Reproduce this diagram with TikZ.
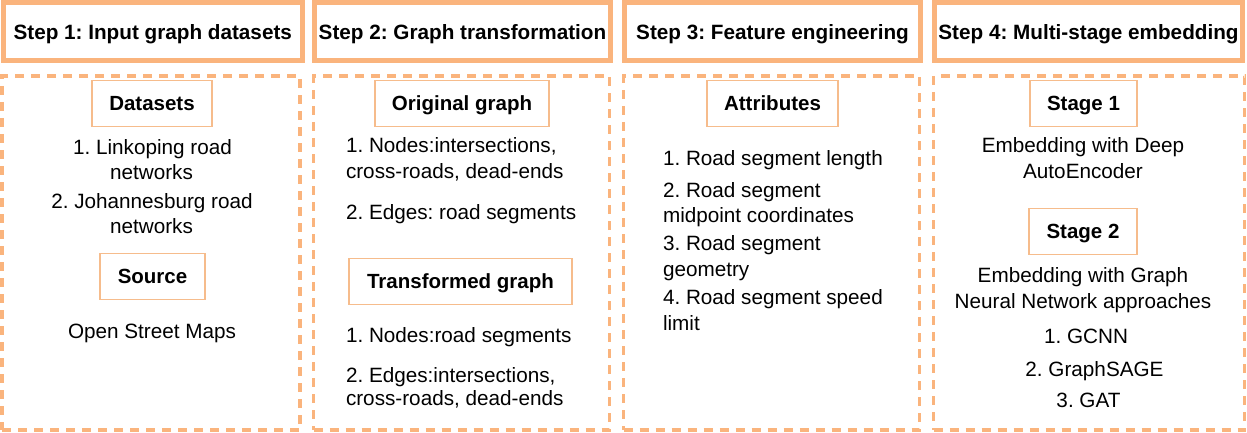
\documentclass[tikz,border=0pt]{standalone}
\usepackage{fontspec}
\setmainfont{Liberation Sans}
\frenchspacing
\definecolor{orng}{RGB}{250,180,125}
\definecolor{orngthin}{RGB}{246,188,140}
\begin{document}
\begin{tikzpicture}[x=1pt,y=-1pt,
  every node/.style={inner sep=0pt,outer sep=0pt,font=\fontsize{20.7}{25}\selectfont\frenchspacing},
  header/.style={draw=orng,line width=5pt,font=\fontsize{20.7}{25}\selectfont\bfseries\frenchspacing,
    text height=14.8pt,text depth=0pt,minimum height=57.5pt},
  panel/.style={draw=orng,line width=3.6pt,dash pattern=on 9pt off 7pt,minimum height=354pt},
  tagbox/.style={draw=orngthin,line width=1.6pt,font=\fontsize{20.5}{25}\selectfont\bfseries\frenchspacing,
    text height=14.8pt,text depth=0pt,minimum height=46pt},
  ctext/.style={anchor=base},
  ltext/.style={anchor=base west}]
\useasboundingbox (0,0) rectangle (1247,433);
% headers
\node[header,minimum width=299.5pt] (h1) at (152.75,31.75) {Step 1: Input graph datasets};
\node[header,minimum width=296pt] (h2) at (462.5,31.75) {Step 2: Graph transformation};
\node[header,minimum width=296pt] (h3) at (772.5,31.75) {Step 3: Feature engineering};
\node[header,minimum width=308pt] (h4) at (1088.5,31.75) {Step 4: Multi-stage embedding};
% panels
\node[panel,minimum width=298pt] (p1) at (151,253) {};
\node[panel,minimum width=296pt] (p2) at (461.5,253) {};
\node[panel,minimum width=296pt] (p3) at (771.5,253) {};
\node[panel,minimum width=311pt] (p4) at (1089,253) {};
% column 1
\node[tagbox,minimum width=120pt] (ds) at (152,103.5) {Datasets};
\node[ctext] (c1a) at (152.5,154) {1. Linkoping road};
\node[ctext] (c1b) at (151.5,179) {networks};
\node[ctext] (c1c) at (152,208) {2. Johannesburg road};
\node[ctext] (c1d) at (151.5,233) {networks};
\node[tagbox,minimum width=105pt] (src) at (152.5,276.5) {Source};
\node[ctext] (c1e) at (152,338) {Open Street Maps};
% column 2
\node[tagbox,minimum width=174pt] (og) at (462,103.5) {Original graph};
\node[ltext] (c2a) at (346,153) {1. Nodes:intersections,};
\node[ltext] (c2b) at (346,178) {cross-roads, dead-ends};
\node[ltext] (c2c) at (346,219) {2. Edges: road segments};
\node[tagbox,minimum width=223pt] (tg) at (460.5,281.5) {Transformed graph};
\node[ltext] (c2d) at (346,342) {1. Nodes:road segments};
\node[ltext] (c2e) at (346,382) {2. Edges:intersections,};
\node[ltext] (c2f) at (346,405) {cross-roads, dead-ends};
% column 3
\node[tagbox,minimum width=131pt] (at) at (772.5,103.5) {Attributes};
\node[ltext] (c3a) at (663,165) {1. Road segment length};
\node[ltext] (c3b) at (663,197) {2. Road segment};
\node[ltext] (c3c) at (663,222) {midpoint coordinates};
\node[ltext] (c3d) at (663,250) {3. Road segment};
\node[ltext] (c3e) at (663,276) {geometry};
\node[ltext] (c3f) at (663,304) {4. Road segment speed};
\node[ltext] (c3g) at (663,330) {limit};
% column 4
\node[tagbox,minimum width=107pt] (s1) at (1083.5,103.5) {Stage 1};
\node[ctext] (c4a) at (1083,153) {Embedding with Deep};
\node[ctext] (c4b) at (1083,178) {AutoEncoder};
\node[tagbox,minimum width=108pt] (s2) at (1083,231.5) {Stage 2};
\node[ctext] (c4c) at (1083,282) {Embedding with Graph};
\node[ctext] (c4d) at (1083,308) {Neural Network approaches};
\node[ctext] (c4e) at (1086,343) {1. GCNN};
\node[ctext] (c4f) at (1094.5,376) {2. GraphSAGE};
\node[ctext] (c4g) at (1088.5,407) {3. GAT};
\end{tikzpicture}
\end{document}
